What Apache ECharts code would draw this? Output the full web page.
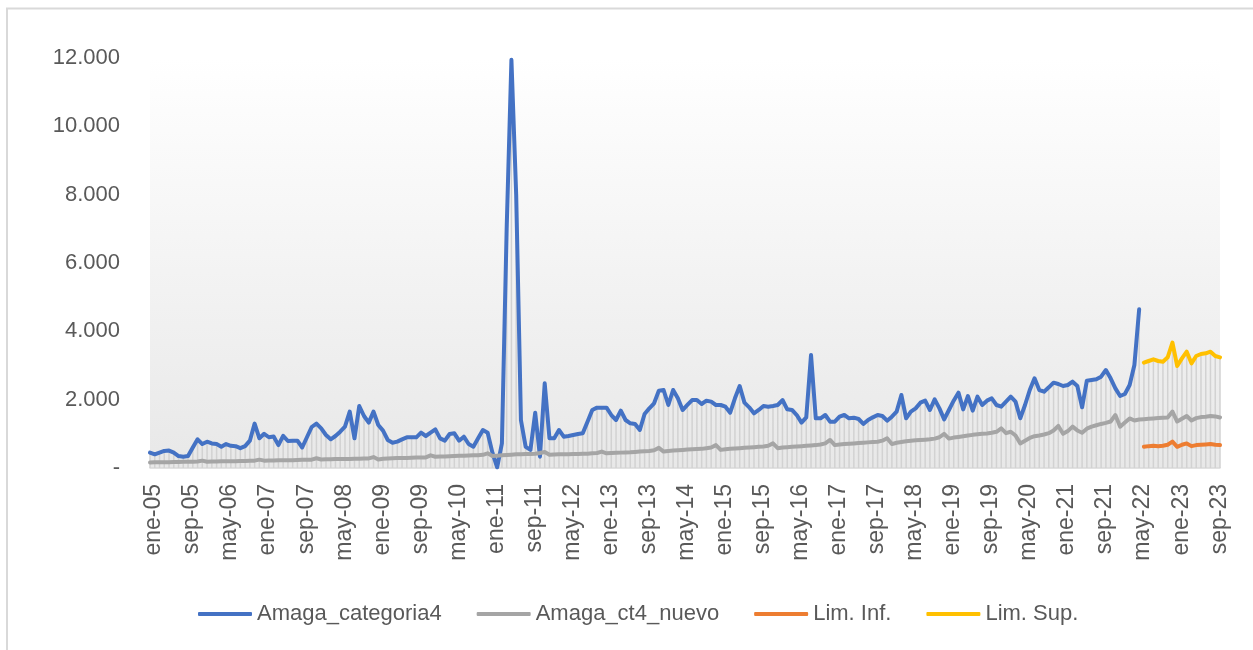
<!DOCTYPE html>
<html>
<head>
<meta charset="utf-8">
<script src="https://cdn.jsdelivr.net/npm/echarts@6/dist/echarts.min.js"></script>
<style>
  html, body { margin: 0; padding: 0; background: #ffffff; }
  #chart { width: 1253px; height: 650px; }
</style>
</head>
<body>
<div id="chart"></div>
<script>
// Etiquetas mensuales: ene-05 ... oct-23
const meses = ['ene', 'feb', 'mar', 'abr', 'may', 'jun', 'jul', 'ago', 'sep', 'oct', 'nov', 'dic'];
const anioInicio = 2005;
const totalMeses = 226;

// Serie observada (ene-05 a may-22)
const amagaCategoria4 = [
  450, 400, 450, 500, 510, 450, 350, 330, 350, 600, 840, 700,
  770, 720, 700, 620, 700, 650, 640, 580, 640, 800, 1300, 870,
  1000, 900, 920, 670, 940, 790, 800, 800, 600, 900, 1200, 1300,
  1160, 966, 840, 936, 1063, 1210, 1649, 868, 1815, 1522, 1327, 1649,
  1258, 1093, 819, 741, 771, 839, 898, 898, 898, 1034, 937, 1034,
  1132, 868, 800, 995, 1015, 800, 917, 702, 624, 868, 1112, 1034,
  449, 20, 720, 7000, 11950, 8000, 1400, 620, 530, 1620, 332, 2478,
  868, 868, 1112, 917, 937, 966, 995, 1015, 1356, 1697, 1766, 1766,
  1766, 1551, 1405, 1678, 1405, 1307, 1288, 1112, 1580, 1747, 1893, 2264,
  2283, 1844, 2283, 2039, 1697, 1844, 1990, 1990, 1873, 1969, 1942, 1844,
  1844, 1795, 1620, 2039, 2400, 1912, 1776, 1600, 1698, 1815, 1795, 1815,
  1844, 1990, 1717, 1698, 1551, 1327, 1483, 3307, 1454, 1454, 1551, 1356,
  1356, 1502, 1551, 1454, 1473, 1434, 1288, 1405, 1483, 1551, 1522, 1385,
  1502, 1649, 2137, 1454, 1649, 1746, 1912, 1971, 1698, 2010, 1746, 1424,
  1698, 1971, 2205, 1717, 2107, 1678, 2088, 1844, 1971, 2039, 1844, 1795,
  1942, 2088, 1942, 1454, 1844, 2283, 2625, 2283, 2234, 2361, 2498, 2459,
  2400, 2429, 2527, 2400, 1776, 2556, 2576, 2595, 2673, 2868, 2625, 2332,
  2107, 2166, 2429, 3015, 4644
];

// Serie ajustada (ene-05 a oct-23)
const amagaCt4Nuevo = [
  160, 165, 165, 170, 170, 175, 175, 180, 180, 185, 190, 215,
  185, 190, 190, 195, 195, 200, 200, 205, 205, 210, 215, 245,
  215, 220, 220, 225, 225, 230, 230, 235, 240, 240, 245, 285,
  250, 255, 255, 260, 260, 265, 265, 270, 270, 275, 280, 320,
  250, 270, 280, 285, 290, 290, 295, 300, 305, 305, 310, 370,
  330, 335, 340, 345, 350, 355, 360, 365, 370, 375, 385, 430,
  350, 360, 370, 380, 390, 400, 405, 410, 410, 420, 440, 470,
  390, 395, 400, 400, 405, 410, 410, 415, 420, 430, 440, 480,
  430, 440, 445, 450, 455, 460, 470, 480, 490, 500, 520, 590,
  480, 500, 510, 520, 530, 540, 550, 555, 560, 580, 600, 670,
  530, 550, 560, 570, 580, 590, 600, 610, 620, 630, 650, 720,
  580, 600, 610, 620, 630, 640, 650, 660, 670, 690, 720, 820,
  670, 690, 700, 710, 720, 730, 740, 750, 760, 770, 800, 870,
  700, 740, 760, 780, 800, 810, 820, 830, 840, 860, 900, 1000,
  860, 890, 910, 930, 950, 970, 985, 1000, 1010, 1030, 1060, 1160,
  1020, 1060, 950, 720, 800, 880, 930, 950, 980, 1020, 1100, 1230,
  1000, 1080, 1210, 1100, 1030, 1150, 1210, 1250, 1290, 1320, 1360, 1550,
  1210, 1330, 1450, 1390, 1420, 1430, 1440, 1450, 1460, 1470, 1480, 1650,
  1360, 1440, 1520, 1390, 1460, 1490, 1500, 1520, 1510, 1480
];

// Banda de pronóstico (jun-22 a oct-23)
const inicioPronostico = 209;
const limInf = [620, 640, 650, 640, 650, 680, 770, 620, 680, 720, 640, 670, 680, 690, 700, 680, 670];
const limSup = [3083, 3132, 3181, 3132, 3112, 3239, 3668, 2986, 3210, 3405, 3064, 3278, 3337, 3356, 3405, 3278, 3239];

// Eje vertical
const yMin = 0, yMax = 12000, yPaso = 2000;

const categorias = [];
for (let k = 0; k < totalMeses; k++) {
  const anio = anioInicio + Math.floor(k / 12);
  categorias.push(meses[k % 12] + '-' + String(anio % 100).padStart(2, '0'));
}

const vacios = n => new Array(n).fill(null);
const datosInf = vacios(inicioPronostico).concat(limInf);
const datosSup = vacios(inicioPronostico).concat(limSup);

// Líneas de caída: desde el eje hasta el valor más alto de cada mes
const caidas = categorias.map((_, k) => {
  const vals = [amagaCategoria4[k], amagaCt4Nuevo[k], datosInf[k], datosSup[k]]
    .filter(v => v !== null && v !== undefined);
  return Math.max.apply(null, vals);
});

const miles = v => v === 0 ? '-' : String(v).replace(/\B(?=(\d{3})+(?!\d))/g, '.');

const fuente = 'Liberation Sans';
const gris = '#595959';

const estiloLinea = color => ({
  color: color, width: 4, cap: 'round', join: 'round'
});

const chart = echarts.init(document.getElementById('chart'), null, { renderer: 'canvas' });
chart.setOption({
  animation: false,
  backgroundColor: '#ffffff',
  graphic: [{
    type: 'rect',
    shape: { x: 7, y: 8.5, width: 1300, height: 700 },
    style: { fill: 'none', stroke: '#d9d9d9', lineWidth: 2 },
    silent: true
  }],
  grid: {
    left: 150, right: 33, top: 58, bottom: 182,
    show: true, borderWidth: 0,
    backgroundColor: new echarts.graphic.LinearGradient(0, 0, 0, 1, [
      { offset: 0, color: '#ffffff' },
      { offset: 1, color: '#e8e8e8' }
    ])
  },
  legend: {
    data: ['Amaga_categoria4', 'Amaga_ct4_nuevo', 'Lim. Inf.', 'Lim. Sup.'],
    left: 198, top: 601, padding: 0,
    icon: 'roundRect',
    itemWidth: 54, itemHeight: 4, itemGap: 35,
    textStyle: { fontFamily: fuente, fontSize: 22, color: gris, lineHeight: 26 }
  },
  xAxis: {
    type: 'category',
    data: categorias,
    boundaryGap: false,
    axisLine: { lineStyle: { color: '#d9d9d9', width: 1.5 } },
    axisTick: { show: false },
    splitLine: { show: false },
    axisLabel: {
      interval: 7, rotate: 90, margin: 16,
      fontFamily: fuente, fontSize: 23, color: gris,
      formatter: v => '{t|' + v + '}',
      rich: {
        t: { fontFamily: fuente, fontSize: 23, color: gris, padding: [8, 0, 0, 0] }
      }
    }
  },
  yAxis: {
    type: 'value',
    min: yMin, max: yMax, interval: yPaso,
    axisLine: { show: false },
    axisTick: { show: false },
    splitLine: { show: false },
    axisLabel: {
      margin: 30, fontFamily: fuente, fontSize: 22, color: gris,
      formatter: miles
    }
  },
  series: [
    {
      name: 'caidas', type: 'bar', data: caidas,
      barWidth: 1.5, silent: true, z: 1,
      itemStyle: { color: '#d2d2d2' },
      emphasis: { disabled: true }
    },
    {
      name: 'Amaga_categoria4', type: 'line', data: amagaCategoria4,
      showSymbol: false, z: 3, color: '#4472C4',
      lineStyle: estiloLinea('#4472C4')
    },
    {
      name: 'Amaga_ct4_nuevo', type: 'line', data: amagaCt4Nuevo,
      showSymbol: false, z: 4, color: '#A5A5A5',
      lineStyle: estiloLinea('#A5A5A5')
    },
    {
      name: 'Lim. Inf.', type: 'line', data: datosInf,
      showSymbol: false, z: 5, color: '#ED7D31',
      lineStyle: estiloLinea('#ED7D31')
    },
    {
      name: 'Lim. Sup.', type: 'line', data: datosSup,
      showSymbol: false, z: 6, color: '#FFC000',
      lineStyle: estiloLinea('#FFC000')
    }
  ]
});
</script>
</body>
</html>
